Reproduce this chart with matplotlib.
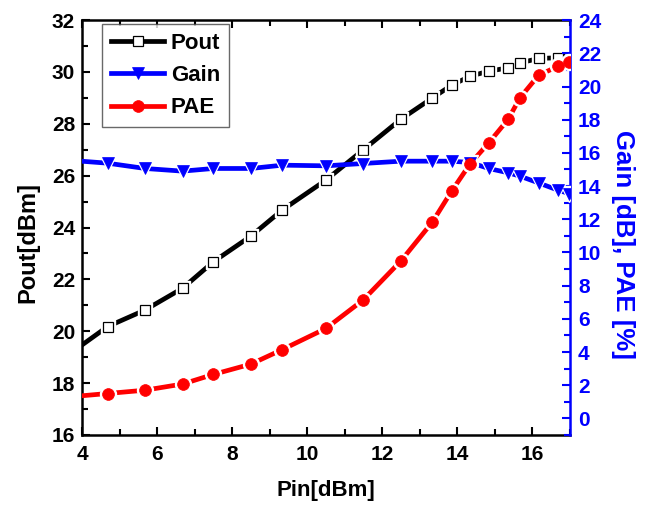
import matplotlib
matplotlib.use("Agg")
import matplotlib.pyplot as plt
from matplotlib.ticker import MultipleLocator

plt.rcParams['font.family'] = ['Liberation Sans', 'DejaVu Sans']
plt.rcParams['font.weight'] = 'bold'

# Input power sweep and measured results
pin = [3.68, 4.68, 5.68, 6.68, 7.50, 8.50, 9.34, 10.50, 11.49, 12.50, 13.34,
       13.85, 14.35, 14.84, 15.36, 15.67, 16.17, 16.69, 16.98]
pout = [19.14, 20.18, 20.82, 21.66, 22.68, 23.67, 24.68, 25.83, 26.99, 28.18, 29.00,
        29.49, 29.84, 30.03, 30.16, 30.35, 30.52, 30.55, 30.52]
gain = [15.55, 15.38, 15.06, 14.90, 15.06, 15.06, 15.26, 15.22, 15.36, 15.50, 15.50,
        15.50, 15.42, 15.06, 14.80, 14.60, 14.19, 13.75, 13.55]
pae = [1.30, 1.50, 1.70, 2.07, 2.65, 3.27, 4.15, 5.42, 7.13, 9.49, 11.84,
       13.69, 15.36, 16.60, 18.03, 19.31, 20.68, 21.22, 21.50]

BLUE = '#0000ff'
RED = '#ff0000'

fig = plt.figure(figsize=(6.46, 5.16), dpi=100)
ax = fig.add_axes([0.127, 0.157, 0.755, 0.804])
ax2 = ax.twinx()


def draw(axis, x, y, color, marker, ms, face, edge, mew, label):
    # thick line, white halo for the gap, then the marker itself
    axis.plot(x, y, color=color, lw=3.4, zorder=2)
    axis.plot(x, y, ls='none', marker=marker, ms=ms + 3, mfc='white', mec='white', zorder=3)
    axis.plot(x, y, ls='none', marker=marker, ms=ms, mfc=face, mec=edge, mew=mew, zorder=4)
    h, = axis.plot([], [], color=color, lw=3.4, marker=marker, ms=ms, mfc=face, mec=edge,
                   mew=mew, label=label)
    return h


h1 = draw(ax, pin, pout, 'black', 's', 7, 'white', 'black', 0.9, 'Pout')
h2 = draw(ax2, pin, gain, BLUE, 'v', 9, BLUE, BLUE, 0.5, 'Gain')
h3 = draw(ax2, pin, pae, RED, 'o', 8.5, RED, RED, 0.5, 'PAE')

ax.set_xlim(4, 17)
ax.set_ylim(16, 32)
ax2.set_ylim(-1, 24)

ax.xaxis.set_major_locator(MultipleLocator(2))
ax.xaxis.set_minor_locator(MultipleLocator(1))
ax.yaxis.set_major_locator(MultipleLocator(2))
ax.yaxis.set_minor_locator(MultipleLocator(1))
ax2.yaxis.set_major_locator(MultipleLocator(2))
ax2.yaxis.set_minor_locator(MultipleLocator(1))
ax2.set_yticks(range(0, 25, 2))

ax.tick_params(axis='both', which='both', direction='in', labelsize=15, width=1.5)
ax.tick_params(axis='x', which='both', top=True, labeltop=False)
ax.tick_params(which='major', length=6)
ax.tick_params(which='minor', length=4)
ax.tick_params(axis='x', pad=7)
ax.tick_params(axis='y', pad=5)
ax2.tick_params(axis='y', which='both', direction='in', colors=BLUE, labelsize=15,
                width=1.5, pad=6)
ax2.tick_params(which='major', length=6)
ax2.tick_params(which='minor', length=4)

for s in ['left', 'bottom', 'top']:
    ax.spines[s].set_linewidth(1.8)
ax.spines['right'].set_visible(False)
for s in ['left', 'bottom', 'top']:
    ax2.spines[s].set_visible(False)
ax2.spines['right'].set_color(BLUE)
ax2.spines['right'].set_linewidth(1.8)

ax.set_xlabel('Pin[dBm]', fontsize=16, fontweight='bold', labelpad=12)
ax.set_ylabel('Pout[dBm]', fontsize=17, fontweight='bold', labelpad=9)
ax2.set_ylabel('Gain [dB], PAE [%]', fontsize=18.5, fontweight='bold', color=BLUE,
               rotation=270, labelpad=24)
ax.yaxis.label.set_y(0.465)
ax2.yaxis.label.set_y(0.46)

leg = ax.legend(handles=[h1, h2, h3], loc='upper left', bbox_to_anchor=(0.041, 0.99),
                borderaxespad=0, fontsize=16, frameon=True, fancybox=False,
                edgecolor='#444444', handlelength=2.4, handletextpad=0.3,
                borderpad=0.4, labelspacing=0.5)
leg.get_frame().set_linewidth(1.0)
leg.set_zorder(10)

fig.savefig('out.png', dpi=100)
